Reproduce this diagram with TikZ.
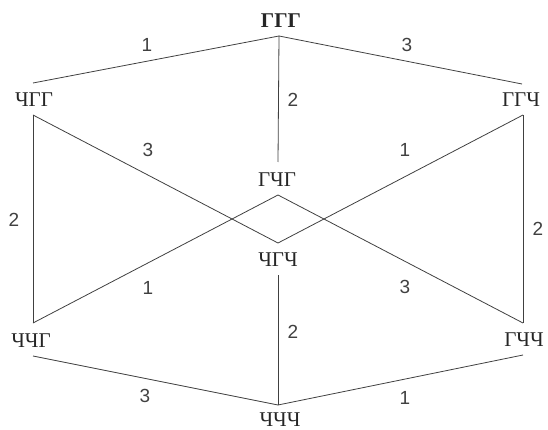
\documentclass[tikz,border=0pt]{standalone}
\usepackage{fontspec}
\setmainfont{Liberation Serif}
\newfontfamily\numfont{Liberation Sans}
\begin{document}
\begin{tikzpicture}[x=1pt,y=-1pt,
  lbl/.style={inner sep=0pt,font=\fontsize{21}{21}\selectfont,text=black!85},
  num/.style={inner sep=0pt,font=\numfont\fontsize{19}{19}\selectfont,text=black!75},
  edge/.style={draw=black!75,line width=0.8pt}]
\useasboundingbox (0,0) rectangle (548,430);
% labels
\node[lbl,font=\bfseries\fontsize{21}{21}\selectfont] (tGGG) at (281,21) {ГГГ};
\node[lbl] (tCGG) at (34,100) {ЧГГ};
\node[lbl] (tGGC) at (521,100) {ГГЧ};
\node[lbl] (tGCG) at (277,180) {ГЧГ};
\node[lbl] (tCGC) at (278,260) {ЧГЧ};
\node[lbl] (tCCG) at (31,341) {ЧЧГ};
\node[lbl] (tGCC) at (524,340) {ГЧЧ};
\node[lbl] (tCCC) at (280,420) {ЧЧЧ};
% connection points
\coordinate (ggg) at (279,36);
\coordinate (cggT) at (33,83);
\coordinate (cggB) at (33,115);
\coordinate (ggcT) at (522,84);
\coordinate (ggcB) at (523,115);
\coordinate (gcgT) at (278,162);
\coordinate (dTop) at (278,195);
\coordinate (dBot) at (278,243);
\coordinate (cgcB) at (278,275);
\coordinate (ccgT) at (33,323);
\coordinate (ccgB) at (33,356);
\coordinate (gccT) at (523,323);
\coordinate (gccB) at (523,355);
\coordinate (ccc) at (278,405);
% edges
\draw[edge] (ggg) -- (cggT);
\draw[edge] (ggg) -- (ggcT);
\draw[edge] (ggg) -- (gcgT);
\draw[edge] (cggB) -- (ccgT);
\draw[edge] (ggcB) -- (gccT);
\draw[edge] (cggB) -- (dBot);
\draw[edge] (ggcB) -- (dBot);
\draw[edge] (ccgT) -- (dTop);
\draw[edge] (gccT) -- (dTop);
\draw[edge] (cgcB) -- (ccc);
\draw[edge] (ccgB) -- (ccc);
\draw[edge] (gccB) -- (ccc);
% numbers
\node[num] (n1) at (147,45) {1};
\node[num] (n2) at (407,45) {3};
\node[num] (n3) at (293,100) {2};
\node[num] (n4) at (14,220) {2};
\node[num] (n5) at (538,229) {2};
\node[num] (n6) at (148,150) {3};
\node[num] (n7) at (405,150) {1};
\node[num] (n8) at (148,288) {1};
\node[num] (n9) at (405,287) {3};
\node[num] (n10) at (293,332) {2};
\node[num] (n11) at (145,396) {3};
\node[num] (n12) at (405,398) {1};
\end{tikzpicture}
\end{document}
